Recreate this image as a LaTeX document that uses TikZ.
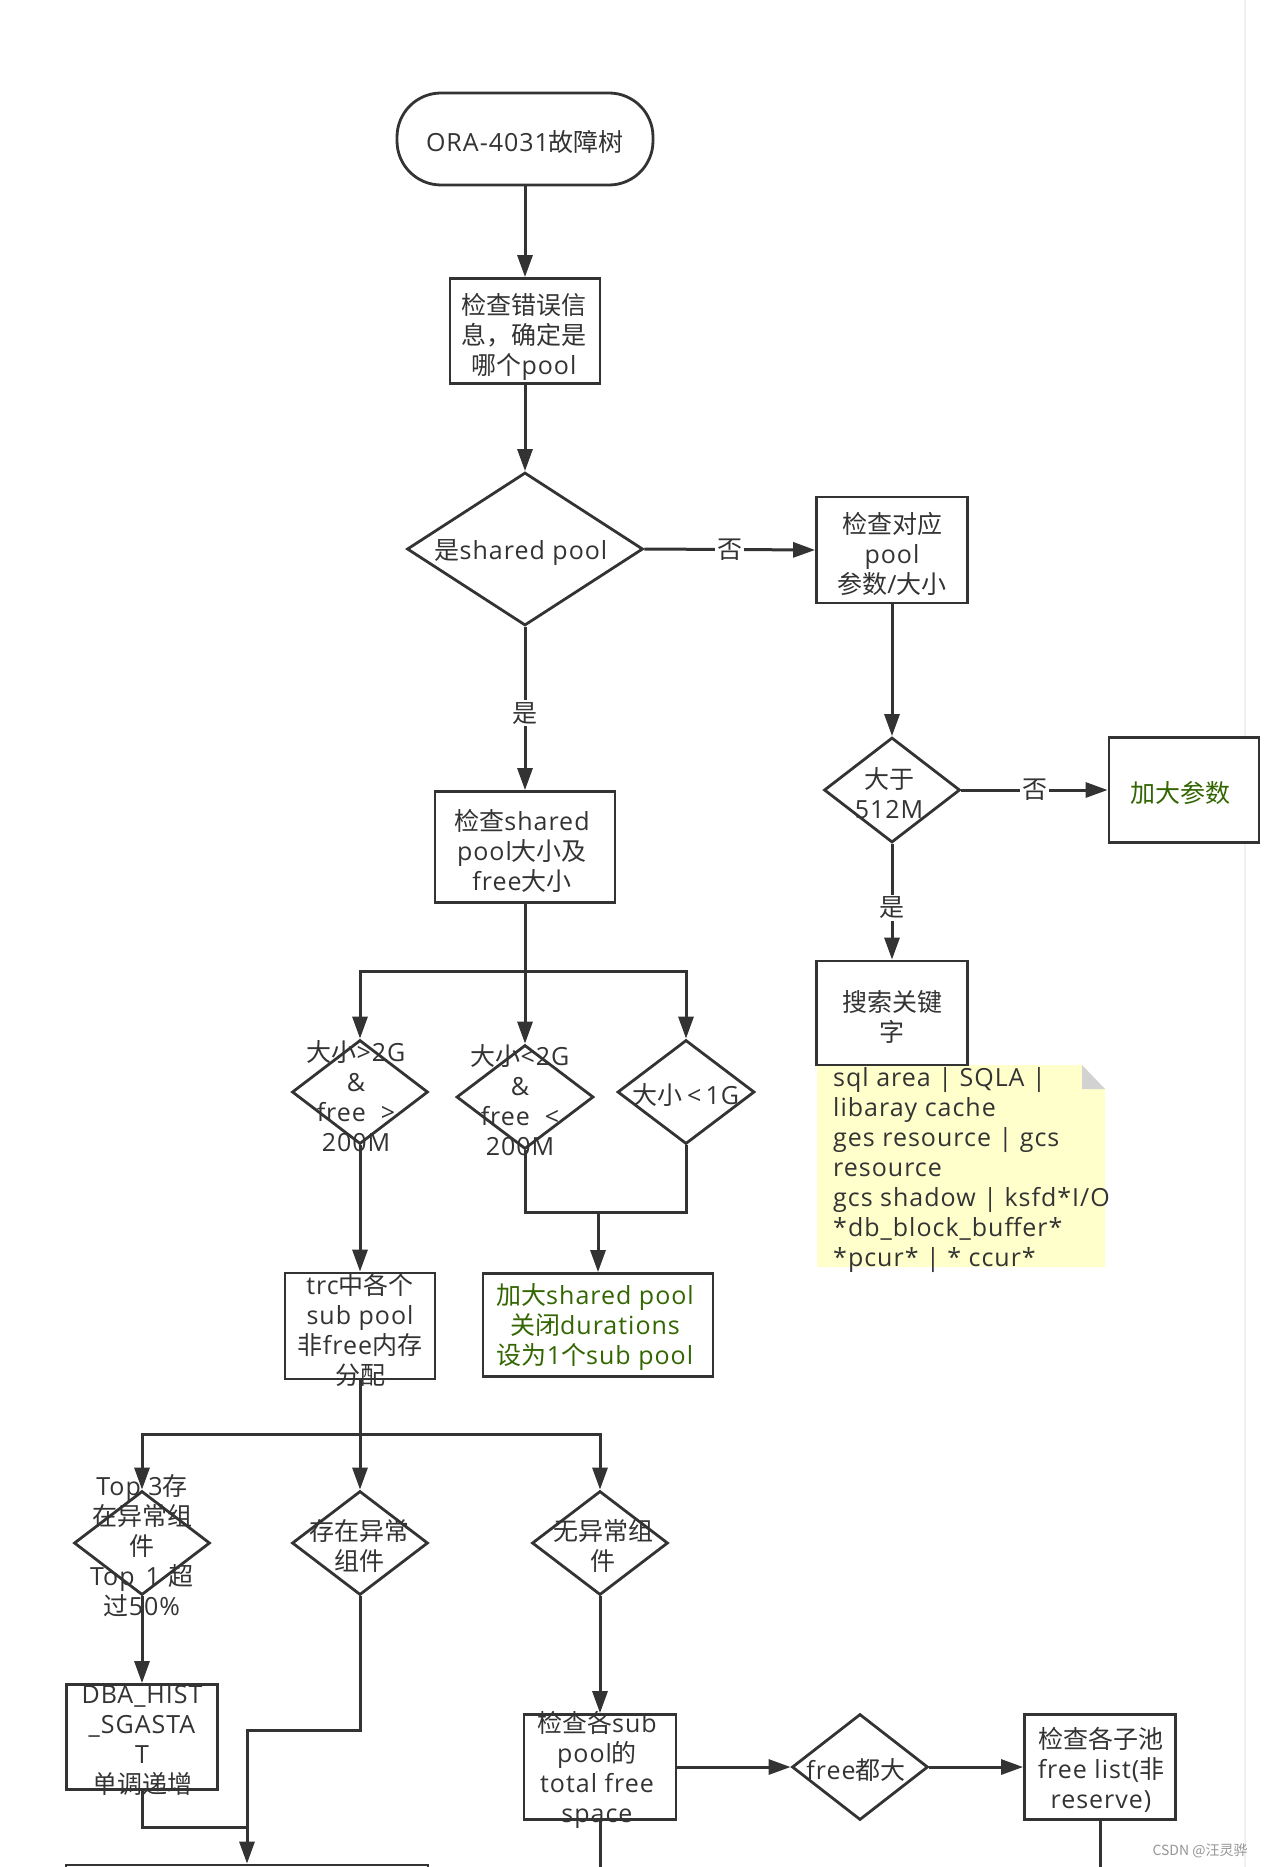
\documentclass[tikz,border=0pt]{standalone}
\usepackage{fontspec}
\setmainfont{Open Sans}[LetterSpace=4]
\newfontfamily\cjkf{Noto Sans CJK SC}
\usetikzlibrary{shapes.geometric,arrows.meta}
\newcommand\zh[1]{{\cjkf #1}}
\newcommand\fs{\fontsize{25pt}{30pt}\selectfont}
\definecolor{lc}{HTML}{333333}
\definecolor{tc}{HTML}{333333}
\definecolor{gc}{HTML}{336600}
\definecolor{notey}{HTML}{FFFFCC}
\definecolor{foldc}{HTML}{D2D2D2}
\tikzset{
 boxs/.style={rectangle, draw=lc, line width=2.8pt, inner sep=0pt, fill=white},
 dias/.style={diamond, draw=lc, line width=2.8pt, inner sep=0pt, fill=white},
 txt/.style={align=center, inner sep=0pt, text=tc, font=\fs},
 gtxt/.style={txt, text=gc},
 ln/.style={line width=3pt, draw=lc},
 arr/.style={ln, -{Triangle[length=22pt,width=15pt]}},
 lbl/.style={fill=white, inner sep=2pt, text=tc, font=\fs}
}
\begin{document}
\begin{tikzpicture}[x=1pt,y=-1pt]
\fill[white] (0,0) rectangle (1263,1867);
\useasboundingbox (0,0) rectangle (1263,1867);
\draw[line width=2pt, color={rgb,255:red,238;green,240;blue,244}] (1245,0) -- (1245,1867);

% note
\fill[notey] (817,1065) -- (1082,1065) -- (1105,1089) -- (1105,1267) -- (817,1267) -- cycle;
\fill[foldc] (1082,1065) -- (1082,1089) -- (1105,1089) -- cycle;

% shapes
\node[boxs, rounded corners=44pt, minimum width=256pt, minimum height=92pt] (term) at (525,139) {};
\node[boxs, minimum width=150pt, minimum height=105pt] (chk1) at (525,331) {};
\node[dias, minimum width=236pt, minimum height=153pt] (dia1) at (525,549) {};
\node[boxs, minimum width=151pt, minimum height=106pt] (chk2) at (892,550) {};
\node[boxs, minimum width=180pt, minimum height=111pt] (chk3) at (525,847) {};
\node[dias, minimum width=136pt, minimum height=105pt] (dia2) at (892,790) {};
\node[boxs, minimum width=150pt, minimum height=105pt] (add) at (1184,790) {};
\node[boxs, minimum width=151pt, minimum height=104pt] (search) at (892,1013) {};
\node[dias, minimum width=136pt, minimum height=104pt] (diaA) at (360,1092) {};
\node[dias, minimum width=137pt, minimum height=104pt] (diaB) at (525,1097) {};
\node[dias, minimum width=137pt, minimum height=104pt] (diaC) at (686,1092) {};
\node[boxs, minimum width=150pt, minimum height=106pt] (trc) at (360,1326) {};
\node[boxs, minimum width=230pt, minimum height=103pt] (green) at (598,1325) {};
\node[dias, minimum width=136pt, minimum height=104pt] (diaD) at (142,1543) {};
\node[dias, minimum width=136pt, minimum height=104pt] (diaE) at (360,1543) {};
\node[dias, minimum width=136pt, minimum height=104pt] (diaF) at (600,1543) {};
\node[boxs, minimum width=151pt, minimum height=105pt] (dba) at (142,1737) {};
\node[boxs, minimum width=152pt, minimum height=105pt] (sub) at (600,1767) {};
\node[dias, minimum width=136pt, minimum height=106pt] (fdia) at (860,1767) {};
\node[boxs, minimum width=151pt, minimum height=105pt] (pool) at (1100,1767) {};
\node[boxs, minimum width=362pt, minimum height=100pt] (nextbox) at (247,1915) {};

% junction coordinates
\coordinate (b1) at (525,971);
\coordinate (j1) at (598,1212);
\coordinate (b2) at (360,1434);
\coordinate (j2) at (247,1730);
\coordinate (j3) at (247,1827);
\coordinate (end1) at (600,1890);
\coordinate (end2) at (1100,1890);

% connectors
\draw[arr] (term.south) -- (chk1.north);
\draw[arr] (chk1.south) -- (dia1.north);
\draw[arr] (dia1.east) -- node[lbl] (no1) {\zh{否}} (chk2.west);
\draw[arr] (dia1.south) -- node[lbl, pos=0.53] (yes1) {\zh{是}} (chk3.north);
\draw[arr] (chk2.south) -- (dia2.north);
\draw[arr] (dia2.east) -- node[lbl] (no2) {\zh{否}} (add.west);
\draw[arr] (dia2.south) -- node[lbl, pos=0.55] (yes2) {\zh{是}} (search.north);
\draw[arr] (chk3.south) -- (diaB.north);
\draw[arr] (b1) -| (diaA.north);
\draw[arr] (b1) -| (diaC.north);
\draw[arr] (diaA.south) -- (trc.north);
\draw[ln] (diaB.south) |- (j1);
\draw[ln] (diaC.south) |- (j1);
\draw[arr] (j1) -- (green.north);
\draw[arr] (trc.south) -- (diaE.north);
\draw[arr] (b2) -| (diaD.north);
\draw[arr] (b2) -| (diaF.north);
\draw[arr] (diaD.south) -- (dba.north);
\draw[ln] (dba.south) |- (j3);
\draw[arr] (diaE.south) |- (j2) -- (nextbox.north);
\draw[arr] (diaF.south) -- (sub.north);
\draw[ln] (sub.south) -- (end1);
\draw[arr] (sub.east) -- (fdia.west);
\draw[arr] (fdia.east) -- (pool.west);
\draw[ln] (pool.south) -- (end2);

% texts
\node[txt] (tterm) at (525,142) {ORA-4031\zh{故障树}};
\node[txt] (tchk1) at (524,337) {\zh{检查错误信}\\\zh{息，确定是}\\\zh{哪个}pool};
\node[txt] (tdia1) at (521,553) {\zh{是}shared pool};
\node[txt] (tchk2) at (892,554) {\zh{检查对应}\\pool\\\zh{参数}/\zh{大小}};
\node[txt] (tchk3) at (522,851) {\zh{检查}shared\\pool\zh{大小及}\\free\zh{大小}};
\node[txt] (tdia2) at (889,793) {\zh{大于}\\512M};
\node[gtxt] (tadd) at (1180,793) {\zh{加大参数}};
\node[txt] (tsearch) at (892,1017) {\zh{搜索关键}\\\zh{字}};
\node[txt, align=left, anchor=north west] (note) at (833,1067) {sql area | SQLA |\\libaray cache\\ges resource | gcs\\resource\\gcs shadow | ksfd*I/O\\*db\_block\_buffer*\\*pcur* | * ccur*};
\node[txt] (tdiaA) at (356,1096) {\zh{大小}>2G\\\&\\free\ \ >\\200M};
\node[txt] (tdiaB) at (520,1100) {\zh{大小}<2G\\\&\\free\ \ <\\200M};
\node[txt] (tdiaC) at (686,1095) {\zh{大小}\,<\,1G};
\node[txt] (ttrc) at (360,1330) {trc\zh{中各个}\\sub pool\\\zh{非}free\zh{内存}\\\zh{分配}};
\node[gtxt] (tgreen) at (595,1327) {\zh{加大}shared pool\\\zh{关闭}durations\\\zh{设为}1\zh{个}sub pool};
\node[txt] (tdiaD) at (142,1546) {Top 3\zh{存}\\\zh{在异常组}\\\zh{件}\\Top\hspace{11pt}1\hspace{9pt}\zh{超}\\\zh{过}50\%};
\node[txt] (tdiaE) at (359,1546) {\zh{存在异常}\\\zh{组件}};
\node[txt] (tdiaF) at (603,1546) {\zh{无异常组}\\\zh{件}};
\node[txt] (tdba) at (142,1740) {DBA\_HIST\\\_SGASTA\\T\\\zh{单调递增}};
\node[txt] (tsub) at (597,1770) {\zh{检查各}sub\\pool\zh{的}\\total free\\space};
\node[txt] (tfdia) at (856,1770) {free\zh{都大}};
\node[txt] (tpool) at (1101,1770) {\zh{检查各子池}\\free list(\zh{非}\\reserve)};
\node[inner sep=0pt, text={rgb,255:red,150;green,150;blue,150}, font=\cjkf\fontsize{14pt}{16pt}\selectfont] (wm) at (1200,1851) {CSDN @汪灵骅};
\end{tikzpicture}
\end{document}
